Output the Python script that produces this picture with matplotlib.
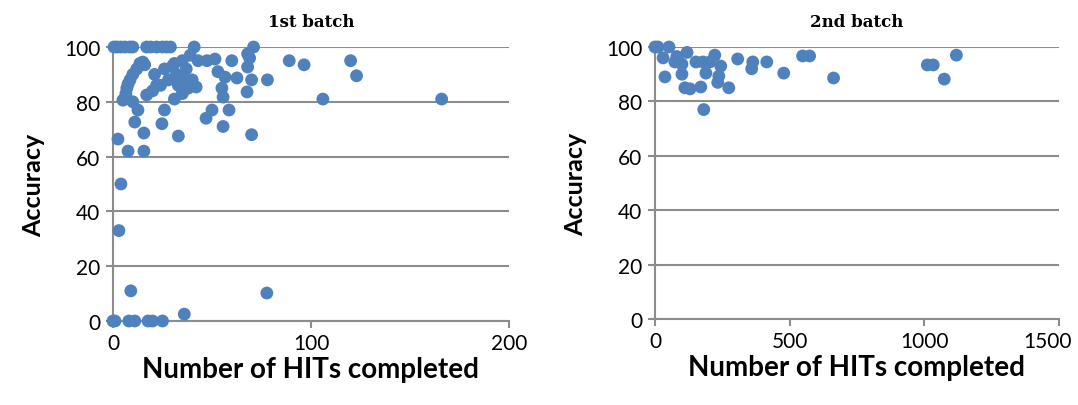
import matplotlib
matplotlib.use("Agg")
import matplotlib.pyplot as plt
from matplotlib.transforms import ScaledTranslation

# ── data ────────────────────────────────────────────────────────────────────
b1_hits = [0.5, 2, 4, 6, 8.5, 10, 17, 19, 22, 25, 27, 29, 41, 71,
           13.6, 12, 10, 8.6, 7.6, 7, 6.5, 5, 10, 12.6, 11, 17, 21, 22, 26, 26, 31, 31, 15, 16,
           2.5, 7.6, 15.6, 15.6, 24.7, 33, 47, 50, 58.6, 55.6, 70,
           43, 47.5, 51.5, 60, 68, 69, 68, 70, 67.7, 53, 56.6, 62.6, 55, 55.6, 35, 35, 40, 42, 35,
           78, 89, 96.5, 120, 106, 123, 166,
           30, 32, 33, 36, 38, 37, 28, 24, 20, 39,
           36, 9, 4, 3, 77.7, 0, 1, 8, 11, 17.7, 20, 25]
b1_acc = [100, 100, 100, 100, 100, 100, 100, 100, 100, 100, 100, 100, 100, 100,
          94, 92, 90, 88, 86.5, 85, 83, 80.6, 80, 77, 72.6, 82.5, 90, 86, 92, 77, 94, 81, 94.5, 93.5,
          66.4, 62, 62, 68.6, 72, 67.5, 74, 77, 77, 71, 68,
          95, 95, 95.6, 95, 97.5, 96, 92.7, 88, 83.6, 91, 89, 88.7, 85, 81.7, 95, 90, 88, 85.4, 83,
          88, 95, 93.5, 95, 81, 89.5, 81,
          93, 90, 86, 88, 85, 92, 88, 86, 84, 97,
          2.5, 11, 50, 33, 10.2, 0, 0, 0, 0, 0, 0, 0]

b2_hits = [0, 11, 52, 30, 37, 81, 74, 119, 100, 100, 111, 130, 152, 178, 204, 222, 189,
           244, 237, 233, 170, 274, 181, 307, 363, 359, 415, 478, 548, 574, 663,
           1011, 1033, 1074, 1119]
b2_acc = [100, 100, 100, 96, 89, 96.5, 94.5, 98, 93.7, 90, 85, 84.6, 94.5, 94.5, 94.5, 97, 90.4,
          93, 89.3, 87, 85.3, 85, 77, 95.6, 94.5, 92, 94.5, 90.4, 96.7, 96.7, 88.6,
          93.4, 93.4, 88.2, 97]

BLUE = "#4F81BD"
GRID = "#8C8C8C"

plt.rcParams.update({
    "font.family": ["Lato", "DejaVu Sans"],
})

fig = plt.figure(figsize=(10.78, 4.06), dpi=100)
ax1 = fig.add_axes([113 / 1078, 84 / 406, 396 / 1078, 274 / 406])
ax2 = fig.add_axes([655 / 1078, 86 / 406, 404 / 1078, 272 / 406])

panels = [
    (ax1, b1_hits, b1_acc, "1st batch", (0, 200), [0, 100, 200]),
    (ax2, b2_hits, b2_acc, "2nd batch", (0, 1500), [0, 500, 1000, 1500]),
]

for ax, xs, ys, title, xlim, xticks in panels:
    ax.scatter(xs, ys, s=85, color=BLUE, edgecolors="none", zorder=3, clip_on=False)
    ax.set_xlim(*xlim)
    ax.set_ylim(0, 100)
    ax.set_xticks(xticks)
    ax.set_yticks([0, 20, 40, 60, 80, 100])
    ax.yaxis.grid(True, color=GRID, linewidth=1.5)
    ax.set_axisbelow(True)
    for s in ("top", "right"):
        ax.spines[s].set_visible(False)
    for s in ("left", "bottom"):
        ax.spines[s].set_color(GRID)
        ax.spines[s].set_linewidth(1.5)
    ax.tick_params(axis="both", colors=GRID, width=1.5, length=5, labelsize=15,
                   labelcolor="black", pad=4)
    ax.set_title(title, family="DejaVu Serif", fontweight="bold", fontsize=12, pad=15)
    ax.set_xlabel("Number of HITs completed", fontsize=20, fontweight="bold", labelpad=2)
    ax.set_ylabel("Accuracy", fontsize=18, fontweight="bold", labelpad=14)

# the last tick label sits at the figure edge; nudge it in a little
last = ax2.get_xticklabels()[-1]
last.set_transform(last.get_transform() + ScaledTranslation(-8 / 72, 0, fig.dpi_scale_trans))

plt.savefig("out.png", dpi=100)
